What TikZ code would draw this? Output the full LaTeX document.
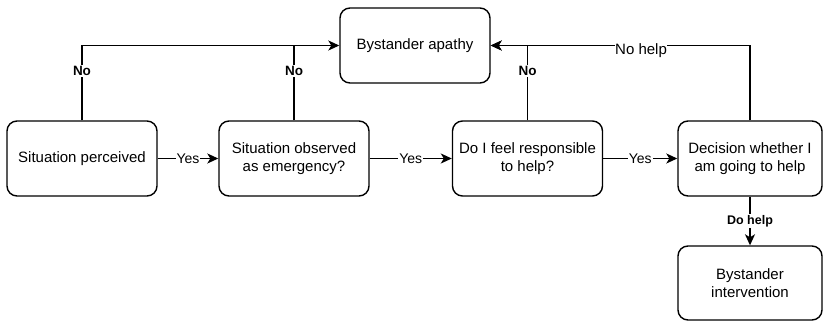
\documentclass[tikz,border=0pt]{standalone}
\usepackage{fontspec}
\setmainfont{Liberation Sans}
\usetikzlibrary{arrows.meta}
\begin{document}
\begin{tikzpicture}[x=1pt,y=-1pt,
  box/.style={draw, line width=1.4pt, rounded corners=10pt, minimum width=150pt, minimum height=75pt, align=center, font=\fontsize{15}{18}\selectfont, inner sep=0pt},
  conn/.style={line width=1.4pt},
  arr/.style={conn, -{Stealth[length=11pt,width=10pt,inset=3pt]}},
  lbl/.style={fill=white, inner sep=1pt, font=\fontsize{14}{16}\selectfont},
  blbl/.style={lbl, font=\bfseries\fontsize{13.5}{16}\selectfont}]
\useasboundingbox (0,0) rectangle (823,321);
\node[box] (sp) at (82,158.5) {Situation perceived};
\node[box] (se) at (294,158.5) {Situation observed\\as emergency?};
\node[box] (fr) at (527.5,158.5) {Do I feel responsible\\to help?};
\node[box, minimum width=144pt] (dh) at (750,158.5) {Decision whether I\\am going to help};
\node[box] (ba) at (415,45.5) {Bystander apathy};
\node[box, minimum width=144pt, minimum height=74pt] (bi) at (750,283) {Bystander\\intervention};
\coordinate (j) at (294,45.5);
% Yes arrows
\draw[arr] (sp) -- node[lbl] {Yes} (se);
\draw[arr] (se) -- node[lbl] {Yes} (fr);
\draw[arr] (fr) -- node[lbl] {Yes} (dh);
% No paths
\draw[arr] (sp.north) |- node[blbl, pos=0.33] {No} (ba.west);
\draw[conn] (se.north) -- node[blbl, pos=0.66] {No} (j);
\draw[arr] (fr.north) |- node[blbl, pos=0.33] {No} (ba.east);
\draw[arr] (dh.north) |- node[lbl, pos=0.71, font=\fontsize{15}{18}\selectfont, inner sep=0pt, yshift=-5pt, text height=14pt, text depth=6pt] {No help} (ba.east);
% Do help
\draw[arr] (dh.south) -- node[blbl, font=\bfseries\fontsize{12.5}{15}\selectfont] {Do help} (bi.north);
\end{tikzpicture}
\end{document}
